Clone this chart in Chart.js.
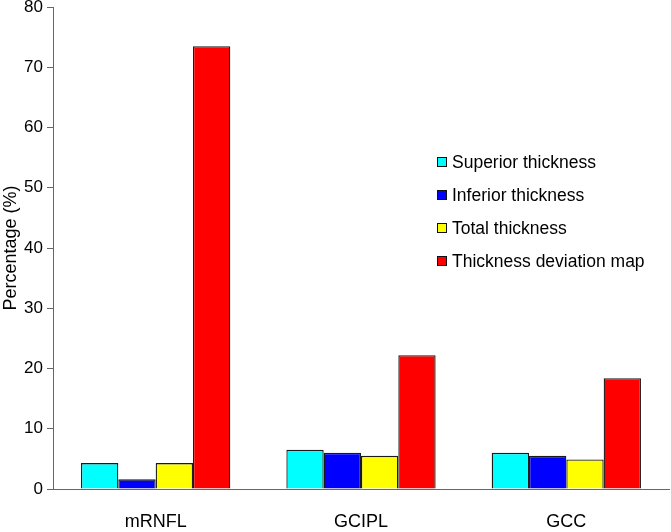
<!DOCTYPE html>
<html>
<head>
<meta charset="utf-8">
<script src="https://cdn.jsdelivr.net/npm/chart.js@4.4.1/dist/chart.umd.min.js"></script>
<style>
  html, body { margin: 0; padding: 0; background: #fff; }
  #wrap { width: 671px; height: 532px; }
</style>
</head>
<body>
<div id="wrap"><canvas id="chart" width="671" height="532"></canvas></div>
<script>
const categories = ['mRNFL', 'GCIPL', 'GCC'];
const seriesNames = ['Superior thickness', 'Inferior thickness', 'Total thickness', 'Thickness deviation map'];
const superiorValues = [4.3, 6.5, 6.0];
const inferiorValues = [1.6, 6.0, 5.5];
const totalValues = [4.3, 5.5, 4.9];
const deviationValues = [73.5, 22.2, 18.4];
const yTicks = [0, 10, 20, 30, 40, 50, 60, 70, 80];

const colors = ['#00ffff', '#0000ff', '#ffff00', '#ff0000'];
const font = 'Liberation Sans, Arial, sans-serif';

// legend drawn by hand so it sits inside the plot like the original
const sideLegend = {
  id: 'sideLegend',
  afterDraw(chart) {
    const ctx = chart.ctx;
    ctx.save();
    ctx.font = '17.5px ' + font;
    ctx.textBaseline = 'middle';
    chart.data.datasets.forEach((ds, i) => {
      const y = 162 + i * 33;
      ctx.fillStyle = ds.backgroundColor;
      ctx.fillRect(437, y - 5, 10, 10);
      ctx.strokeStyle = '#111';
      ctx.lineWidth = 1;
      ctx.strokeRect(437.5, y - 4.5, 9, 9);
      ctx.fillStyle = '#000';
      ctx.fillText(ds.label, 452, y + 1);
    });
    ctx.restore();
  }
};

new Chart(document.getElementById('chart'), {
  type: 'bar',
  data: {
    labels: categories,
    datasets: [superiorValues, inferiorValues, totalValues, deviationValues].map((vals, i) => ({
      label: seriesNames[i],
      data: vals,
      backgroundColor: colors[i],
      borderColor: '#1a1a1a',
      borderWidth: 1.3,
      borderSkipped: 'bottom',
      barPercentage: 1,
      categoryPercentage: 0.727
    }))
  },
  options: {
    responsive: false,
    animation: false,
    devicePixelRatio: 1,
    layout: { padding: { top: 7, right: 2, left: 0, bottom: 0 } },
    plugins: {
      legend: { display: false },
      tooltip: { enabled: false }
    },
    scales: {
      x: {
        grid: { display: false },
        border: { display: true, color: '#666', width: 1 },
        ticks: { color: '#000', font: { family: font, size: 18 }, padding: 14 },
        afterFit(scale) { scale.height = 43; }
      },
      y: {
        min: 0,
        max: 80,
        afterBuildTicks(scale) { scale.ticks = yTicks.map(v => ({ value: v })); },
        grid: { display: true, drawOnChartArea: false, drawTicks: true, tickLength: 6, color: '#666' },
        border: { display: true, color: '#666', width: 1 },
        ticks: { color: '#000', font: { family: font, size: 17 }, padding: 4 },
        title: { display: true, text: 'Percentage (%)', color: '#000', font: { family: font, size: 18 }, padding: 0 },
        afterFit(scale) {
          scale.width = 53;
          // top label may overhang, like in the original
          scale.paddingTop = 0;
          scale.paddingBottom = 0;
        }
      }
    }
  },
  plugins: [sideLegend]
});
</script>
</body>
</html>
